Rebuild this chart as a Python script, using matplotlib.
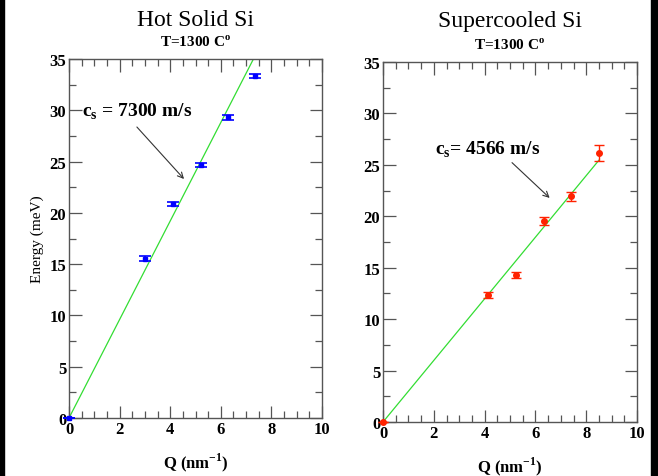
import matplotlib
matplotlib.use('Agg')
import matplotlib.pyplot as plt
from matplotlib.patches import Rectangle
from matplotlib.ticker import MultipleLocator

# Hot solid Si
hot_q = [0.0, 3.0, 4.1, 5.2, 6.27, 7.37]
hot_e = [0.0, 15.55, 20.9, 24.65, 29.3, 33.3]
hot_err = [0.0, 0.2, 0.2, 0.2, 0.2, 0.2]
hot_fit_q = [0.0, 7.29]
hot_fit_e = [0.0, 35.0]

# Supercooled Si
cool_q = [0.0, 4.15, 5.24, 6.33, 7.41, 8.52]
cool_e = [0.0, 12.35, 14.3, 19.5, 21.95, 26.15]
cool_err = [0.0, 0.26, 0.32, 0.39, 0.44, 0.78]
cool_fit_q = [0.0, 8.5]
cool_fit_e = [0.0, 25.45]

plt.rcParams['font.family'] = ['Liberation Serif', 'DejaVu Serif']
plt.rcParams['mathtext.fontset'] = 'custom'
plt.rcParams['mathtext.rm'] = 'Liberation Serif'
plt.rcParams['mathtext.bf'] = 'Liberation Serif:bold'

fig = plt.figure(figsize=(6.58, 4.77), dpi=100)
W, H = 658.0, 477.0

def make_axes(x0, x1, ytop, ybot):
    return fig.add_axes([x0 / W, 1 - ybot / H, (x1 - x0) / W, (ybot - ytop) / H])

def style(ax):
    ax.set_xlim(0, 10)
    ax.set_ylim(0, 35)
    ax.xaxis.set_major_locator(MultipleLocator(2))
    ax.xaxis.set_minor_locator(MultipleLocator(0.5))
    ax.yaxis.set_major_locator(MultipleLocator(5))
    ax.yaxis.set_minor_locator(MultipleLocator(2.5))
    ax.tick_params(which='both', direction='in', top=True, right=True,
                   color='#555555', width=0.9)
    ax.tick_params(which='major', length=9, labelsize=12, pad=2)
    ax.tick_params(which='minor', length=5)
    for lab in ax.get_xticklabels() + ax.get_yticklabels():
        lab.set_fontweight('bold')
    for s in ax.spines.values():
        s.set_color('#555555')
        s.set_linewidth(1.0)
    ax.set_xlabel(r'Q (nm$^{\mathbf{-1}}$)', fontsize=12, fontweight='bold', labelpad=10)

ax1 = make_axes(69, 322, 60, 419)
ax1.plot(hot_fit_q, hot_fit_e, color='#33dd33', lw=0.9, zorder=2)
ax1.errorbar(hot_q, hot_e, yerr=hot_err, fmt='s', color='#0000ff', ms=3.5,
             elinewidth=1.2, capsize=4, capthick=1.2, zorder=3, clip_on=False)
style(ax1)
ax1.set_ylabel('Energy (meV)', fontsize=11, labelpad=4)
ax1.annotate('', xy=(4.62, 23.1), xytext=(2.61, 28.57),
             arrowprops=dict(arrowstyle='->', color='#333333', lw=0.8))
ax1.text(0.5, 29.9, r'c$_\mathbf{s}$ = 7300 m/s', fontsize=14, fontweight='bold',
         va='center', ha='left')
fig.text(195.5 / W, 1 - 20 / H, 'Hot Solid Si', fontsize=17, ha='center', va='center')
fig.text(195.5 / W, 1 - 42 / H, r'T=1300 C$^\mathbf{o}$', fontsize=11,
         fontweight='bold', ha='center', va='center')

ax2 = make_axes(383, 637, 63, 423)
ax2.plot(cool_fit_q, cool_fit_e, color='#33dd33', lw=0.9, zorder=2)
ax2.errorbar(cool_q, cool_e, yerr=cool_err, fmt='o', color='#ff2200', ms=4,
             elinewidth=1.0, capsize=3.8, capthick=1.0, zorder=3, clip_on=False)
style(ax2)
ax2.annotate('', xy=(6.64, 21.6), xytext=(5.0, 25.4),
             arrowprops=dict(arrowstyle='->', color='#333333', lw=0.8))
ax2.text(2.05, 26.6, r'c$_\mathbf{s}$= 4566 m/s', fontsize=14, fontweight='bold',
         va='center', ha='left')
fig.text(510 / W, 1 - 21 / H, 'Supercooled Si', fontsize=17, ha='center', va='center')
fig.text(510 / W, 1 - 45 / H, r'T=1300 C$^\mathbf{o}$', fontsize=11,
         fontweight='bold', ha='center', va='center')

# black frame strips at image edges
fig.patches.append(Rectangle((0, 0), 4 / W, 1, transform=fig.transFigure,
                             color='black', zorder=0))
fig.patches.append(Rectangle((651 / W, 0), 7 / W, 1, transform=fig.transFigure,
                             color='black', zorder=0))

fig.savefig('out.png', dpi=100)
